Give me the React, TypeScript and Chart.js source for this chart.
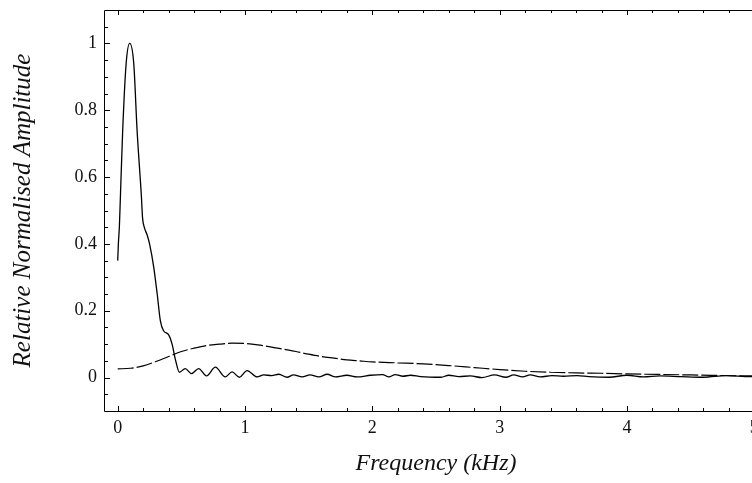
import React, { useEffect, useRef } from "react";
import { Chart, registerables } from "chart.js";

Chart.register(...registerables);

// ---- Data ----
const solidX = [0, 0.005, 0.013, 0.021, 0.039, 0.066, 0.094, 0.126, 0.152, 0.186, 0.195, 0.21, 0.23, 0.25, 0.283, 0.31, 0.335, 0.36, 0.4, 0.427, 0.453, 0.485, 0.53, 0.58, 0.636, 0.697, 0.767, 0.845, 0.898, 0.956, 1.016, 1.095, 1.147, 1.21, 1.265, 1.33, 1.38, 1.45, 1.51, 1.58, 1.645, 1.71, 1.8, 1.88, 1.985, 2.08, 2.13, 2.18, 2.24, 2.3, 2.38, 2.54, 2.6, 2.68, 2.77, 2.86, 2.96, 3.05, 3.11, 3.18, 3.24, 3.32, 3.41, 3.5, 3.61, 3.7, 3.86, 4.0, 4.13, 4.26, 4.42, 4.6, 4.78, 4.97, 5.1];
const solidY = [0.35, 0.4, 0.452, 0.541, 0.74, 0.939, 1.0, 0.939, 0.74, 0.541, 0.478, 0.448, 0.428, 0.4, 0.33, 0.25, 0.17, 0.14, 0.128, 0.1, 0.054, 0.016, 0.027, 0.012, 0.027, 0.005, 0.031, 0.002, 0.017, 0.001, 0.021, 0.002, 0.008, 0.006, 0.01, 0.001, 0.008, 0.002, 0.008, 0.002, 0.01, 0.002, 0.007, 0.002, 0.007, 0.009, 0.002, 0.009, 0.004, 0.007, 0.003, 0.001, 0.007, 0.003, 0.005, 0.0, 0.008, 0.001, 0.008, 0.002, 0.008, 0.002, 0.006, 0.004, 0.006, 0.003, 0.001, 0.007, 0.002, 0.005, 0.003, 0.001, 0.006, 0.003, 0.004];

const dashedX = [0, 0.1, 0.2, 0.3, 0.4, 0.5, 0.6, 0.7, 0.8, 0.9, 1.0, 1.1, 1.2, 1.3, 1.4, 1.5, 1.6, 1.7, 1.8, 1.9, 2.0, 2.2, 2.4, 2.6, 2.8, 3.0, 3.2, 3.4, 3.6, 3.8, 4.0, 4.5, 5.0, 5.1];
const dashedY = [0.026, 0.028, 0.035, 0.048, 0.063, 0.078, 0.088, 0.096, 0.1, 0.103, 0.102, 0.098, 0.092, 0.085, 0.078, 0.07, 0.063, 0.058, 0.053, 0.05, 0.047, 0.044, 0.041, 0.036, 0.03, 0.024, 0.019, 0.016, 0.014, 0.013, 0.011, 0.008, 0.005, 0.005];

const xTicks = [0, 1, 2, 3, 4, 5];
const yTicks = [0, 0.2, 0.4, 0.6, 0.8, 1];
const xTitle = "Frequency (kHz)";
const yTitle = "Relative Normalised Amplitude";

const X_MIN = -0.1, X_MAX = 5.1, Y_MIN = -0.1, Y_MAX = 1.1;
const xMinor: number[] = [];
for (let i = 0; i <= 25; i++) xMinor.push(Math.round(i * 2) / 10);
const yMinor: number[] = [];
for (let i = -2; i <= 22; i++) yMinor.push(Math.round(i * 5) / 100);

const FONT = "'Liberation Serif', 'Times New Roman', serif";
const INK = "#111";

const framePlugin = {
  id: "frameTicks",
  afterDraw(chart: any) {
    const { ctx, chartArea } = chart;
    const xs = chart.scales.x;
    const ys = chart.scales.y;
    const { left, right, top, bottom } = chartArea;
    ctx.save();
    ctx.strokeStyle = "#000";
    ctx.lineWidth = 1;
    ctx.beginPath();
    ctx.rect(Math.round(left) - 0.5, Math.round(top) + 0.5, Math.round(right - left), Math.round(bottom - top));
    ctx.stroke();
    const tick = (x1: number, y1: number, x2: number, y2: number) => {
      ctx.beginPath();
      ctx.moveTo(x1, y1);
      ctx.lineTo(x2, y2);
      ctx.stroke();
    };
    xMinor.forEach((v) => {
      const major = xTicks.some((t) => Math.abs(t - v) < 1e-9);
      const len = major ? 5 : 3;
      const px = Math.round(xs.getPixelForValue(v)) + 0.5;
      tick(px, bottom, px, bottom - len);
      tick(px, top, px, top + len);
    });
    yMinor.forEach((v) => {
      const major = yTicks.some((t) => Math.abs(t - v) < 1e-9);
      const len = major ? 5 : 3;
      const py = Math.round(ys.getPixelForValue(v)) + 0.5;
      tick(left, py, left + len, py);
      tick(right, py, right - len, py);
    });
    ctx.restore();
  },
};

export default function App() {
  const ref = useRef<HTMLCanvasElement | null>(null);
  useEffect(() => {
    if (!ref.current) return;
    const chart = new Chart(ref.current, {
      type: "scatter",
      data: {
        datasets: [
          {
            data: solidX.map((x, i) => ({ x, y: solidY[i] })),
            showLine: true,
            borderColor: "#000",
            borderWidth: 1.3,
            pointRadius: 0,
            cubicInterpolationMode: "monotone",
          },
          {
            data: dashedX.map((x, i) => ({ x, y: dashedY[i] })),
            showLine: true,
            borderColor: "#000",
            borderWidth: 1.2,
            borderDash: [16, 3],
            pointRadius: 0,
            cubicInterpolationMode: "monotone",
          },
        ],
      },
      options: {
        animation: false,
        responsive: false,
        events: [],
        layout: { padding: { left: 0, right: 13, top: 10, bottom: 0 } },
        plugins: { legend: { display: false }, tooltip: { enabled: false } },
        scales: {
          x: {
            type: "linear",
            min: X_MIN,
            max: X_MAX,
            afterBuildTicks: (s: any) => {
              s.ticks = xTicks.map((v) => ({ value: v }));
            },
            afterFit: (s: any) => {
              s.height = 72;
              s.paddingLeft = 0;
              s.paddingRight = 0;
            },
            grid: { display: false, drawTicks: false },
            border: { display: false },
            ticks: {
              padding: 6,
              color: INK,
              font: { family: FONT, size: 18 },
              callback: (v: any) => String(v),
            },
            title: {
              display: true,
              text: xTitle,
              color: INK,
              font: { family: FONT, size: 24, style: "italic" },
              padding: { top: 0, bottom: 5 },
            },
          },
          y: {
            type: "linear",
            min: Y_MIN,
            max: Y_MAX,
            afterBuildTicks: (s: any) => {
              s.ticks = yTicks.map((v) => ({ value: v }));
            },
            afterFit: (s: any) => {
              s.width = 105;
              s.paddingTop = 0;
              s.paddingBottom = 0;
            },
            grid: { display: false, drawTicks: false },
            border: { display: false },
            ticks: {
              padding: 8,
              color: INK,
              font: { family: FONT, size: 18 },
              callback: (v: any) => String(Number(Number(v).toFixed(2))),
            },
            title: {
              display: true,
              text: yTitle,
              color: INK,
              font: { family: FONT, size: 25, style: "italic" },
              padding: { top: 8, bottom: 0 },
            },
          },
        },
      },
      plugins: [framePlugin],
    });
    return () => chart.destroy();
  }, []);
  return (
    <div
      style={{
        position: "fixed",
        left: 0,
        top: 0,
        width: 752,
        height: 483,
        overflow: "hidden",
        background: "#fff",
      }}
    >
      <canvas ref={ref} width={780} height={483} style={{ display: "block", width: 780, height: 483 }} />
    </div>
  );
}
